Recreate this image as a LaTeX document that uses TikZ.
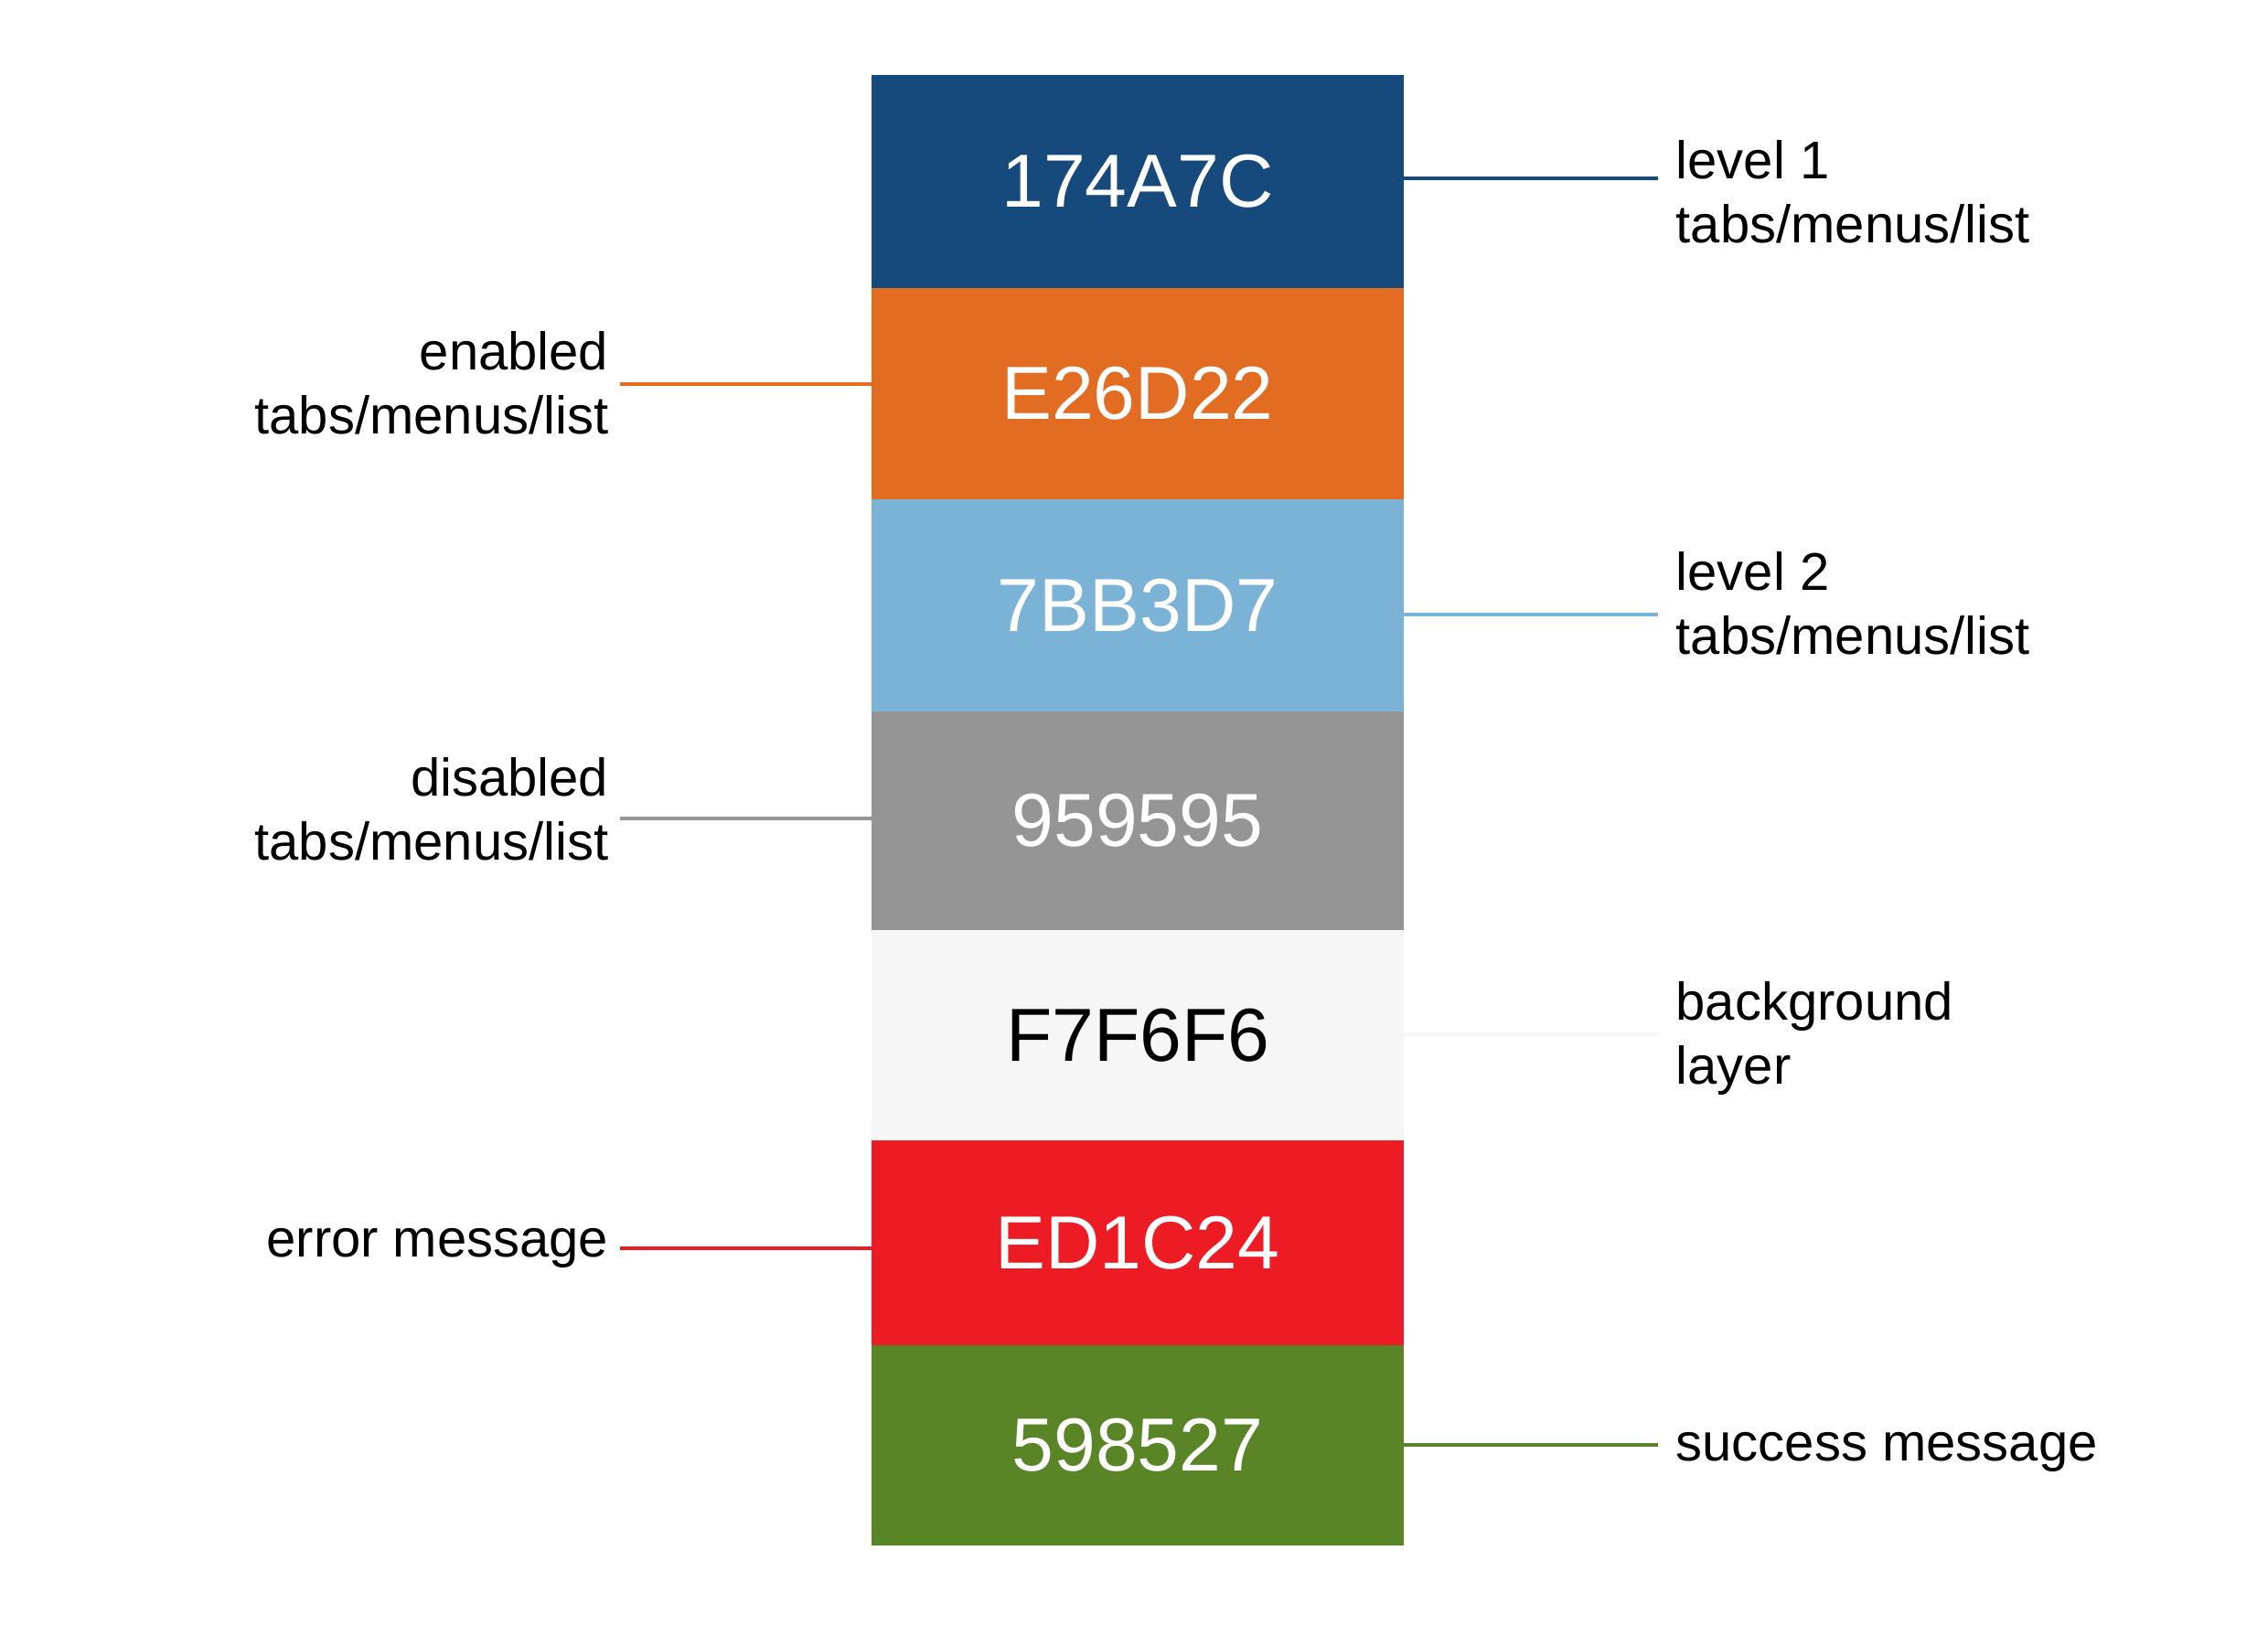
\documentclass[tikz,border=0pt]{standalone}
\usepackage{fontspec}
\setmainfont{Liberation Sans}
\usetikzlibrary{positioning}
\definecolor{bluedark}{HTML}{174A7C}
\definecolor{orangetab}{HTML}{E26D22}
\definecolor{bluelight}{HTML}{7BB3D7}
\definecolor{greydis}{HTML}{959595}
\definecolor{greybg}{HTML}{F7F6F6}
\definecolor{rederr}{HTML}{ED1C24}
\definecolor{greenok}{HTML}{598527}

\begin{document}
\begin{tikzpicture}[band/.style = {rectangle, minimum width=5.82cm, inner sep=0pt, outer sep=0pt, text=white, font=\fontsize{23.4}{28}\selectfont}, lbl/.style = {inner sep=0pt, font=\fontsize{16.5}{19.9}\selectfont}, con/.style = {line width=1.4pt}, node distance=0pt]
\useasboundingbox (0,0) rectangle (24.8,-18);
% colour bands
\node[band, fill=bluedark, minimum height=2.33cm] (1) at (12.44,-1.985) {174A7C};
\node[band, fill=orangetab, minimum height=2.31cm] (2) [below=of 1] {E26D22};
\node[band, fill=bluelight, minimum height=2.32cm] (3) [below=of 2] {7BB3D7};
\node[band, fill=greydis, minimum height=2.39cm] (4) [below=of 3] {959595};
\node[band, fill=greybg, minimum height=2.30cm, text=black] (5) [below=of 4] {F7F6F6};
\node[band, fill=rederr, minimum height=2.24cm] (6) [below=of 5] {ED1C24};
\node[band, fill=greenok, minimum height=2.19cm] (7) [below=of 6] {598527};
% connector ends
\coordinate (r1) at (18.13,-1.95);
\coordinate (l2) at (6.78,-4.20);
\coordinate (r3) at (18.13,-6.72);
\coordinate (l4) at (6.78,-8.95);
\coordinate (r5) at (18.13,-11.31);
\coordinate (l6) at (6.78,-13.65);
\coordinate (r7) at (18.13,-15.80);
% labels (base = last line)
\node[lbl, anchor=base west, align=left] (t1) at (18.32,-2.65) {level 1\\tabs/menus/list};
\node[lbl, anchor=base east, align=right] (t2) at (6.66,-4.74) {enabled\\tabs/menus/list};
\node[lbl, anchor=base west, align=left] (t3) at (18.32,-7.15) {level 2\\tabs/menus/list};
\node[lbl, anchor=base east, align=right] (t4) at (6.66,-9.40) {disabled\\tabs/menus/list};
\node[lbl, anchor=base west, align=left] (t5) at (18.32,-11.85) {background\\layer};
\node[lbl, anchor=base east] (t6) at (6.66,-13.74) {error message};
\node[lbl, anchor=base west] (t7) at (18.32,-15.97) {success message};
% connectors
\draw[con, bluedark] (1.east |- r1) -- (r1);
\draw[con, orangetab] (2.west |- l2) -- (l2);
\draw[con, bluelight] (3.east |- r3) -- (r3);
\draw[con, greydis] (4.west |- l4) -- (l4);
\draw[con, greybg] (5.east |- r5) -- (r5);
\draw[con, rederr] (6.west |- l6) -- (l6);
\draw[con, greenok] (7.east |- r7) -- (r7);
\end{tikzpicture}
\end{document}
